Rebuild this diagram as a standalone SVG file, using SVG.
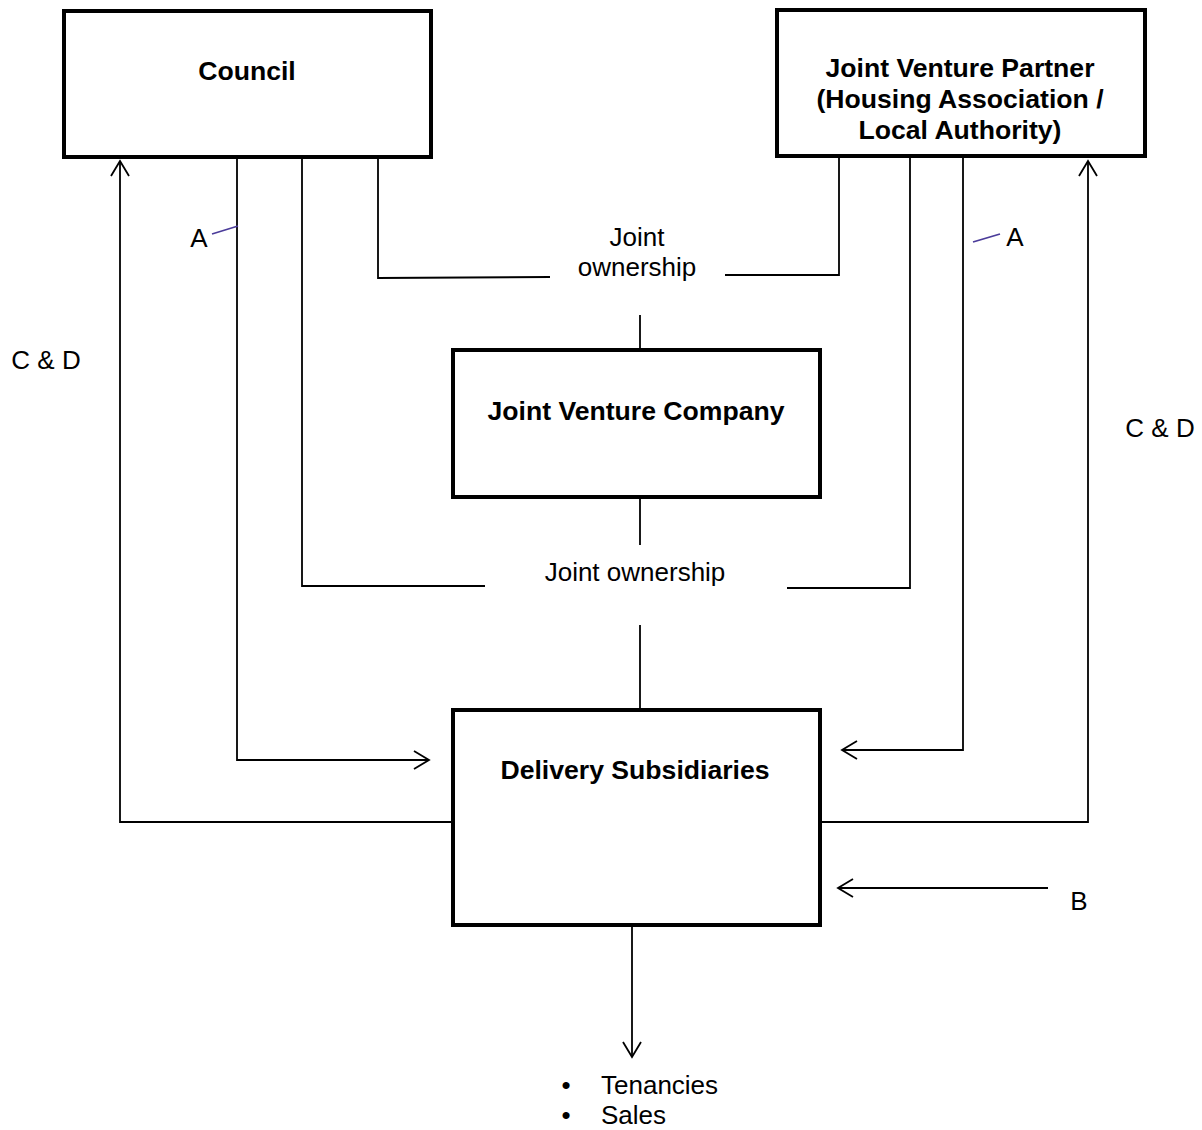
<svg xmlns="http://www.w3.org/2000/svg" width="1202" height="1130" viewBox="0 0 1202 1130">
<defs>
<marker id="arr" markerUnits="userSpaceOnUse" markerWidth="20" markerHeight="24" refX="16" refY="10" orient="auto" viewBox="0 0 20 20">
<path d="M1,1 L16,10 L1,19" fill="none" stroke="#000" stroke-width="1.8"/>
</marker>
</defs>
<style>
.box{fill:#fff;stroke:#000;stroke-width:4}
.ln{fill:none;stroke:#000;stroke-width:1.8}
.tick{fill:none;stroke:#4b3c9a;stroke-width:1.8}
.b{font-family:"Liberation Sans",Arial,sans-serif;font-weight:bold;font-size:26.6px;text-anchor:middle;fill:#000}
.t{font-family:"Liberation Sans",Arial,sans-serif;font-size:26px;fill:#000}
.c{text-anchor:middle}
</style>
<rect width="1202" height="1130" fill="#fff"/>
<g id="connectors">
<polyline class="ln" points="453,822 120,822 120,161" marker-end="url(#arr)"/>
<polyline class="ln" points="237,158 237,760 429,760" marker-end="url(#arr)"/>
<polyline class="ln" points="302,158 302,586 485,586"/>
<polyline class="ln" points="378,158 378,278 550,277"/>
<polyline class="ln" points="725,275 839,275 839,157"/>
<polyline class="ln" points="787,588 910,588 910,157"/>
<polyline class="ln" points="963,157 963,750 842,750" marker-end="url(#arr)"/>
<polyline class="ln" points="820,822 1088,822 1088,161" marker-end="url(#arr)"/>
<line class="ln" x1="640" y1="315" x2="640" y2="350"/>
<line class="ln" x1="640" y1="497" x2="640" y2="545"/>
<line class="ln" x1="640" y1="625" x2="640" y2="710"/>
<line class="ln" x1="1048" y1="888" x2="838" y2="888" marker-end="url(#arr)"/>
<line class="ln" x1="632" y1="925" x2="632" y2="1057" marker-end="url(#arr)"/>
<line class="tick" x1="212" y1="234" x2="238" y2="226"/>
<line class="tick" x1="973" y1="242" x2="1000" y2="234"/>
</g>
<g id="council">
<rect class="box" x="64" y="11" width="367" height="146"/>
<text class="b" x="247" y="80">Council</text>
</g>
<g id="jv-partner">
<rect class="box" x="777" y="10" width="368" height="146"/>
<text class="b" x="960" y="77">Joint Venture Partner</text>
<text class="b" x="960" y="108">(Housing Association /</text>
<text class="b" x="960" y="139">Local Authority)</text>
</g>
<g id="jv-company">
<rect class="box" x="453" y="350" width="367" height="147"/>
<text class="b" x="636" y="420">Joint Venture Company</text>
</g>
<g id="delivery">
<rect class="box" x="453" y="710" width="367" height="215"/>
<text class="b" x="635" y="779">Delivery Subsidiaries</text>
</g>
<g id="labels">
<text class="t c" x="637" y="246">Joint</text>
<text class="t c" x="637" y="276">ownership</text>
<text class="t c" x="635" y="581">Joint ownership</text>
<text class="t c" x="199" y="247">A</text>
<text class="t c" x="1015" y="246">A</text>
<text class="t c" x="46" y="369">C &amp; D</text>
<text class="t c" x="1160" y="437">C &amp; D</text>
<text class="t c" x="1079" y="910">B</text>
<text class="t c" x="566" y="1094">•</text>
<text class="t" x="601" y="1094">Tenancies</text>
<text class="t c" x="566" y="1124">•</text>
<text class="t" x="601" y="1124">Sales</text>
</g>
</svg>
